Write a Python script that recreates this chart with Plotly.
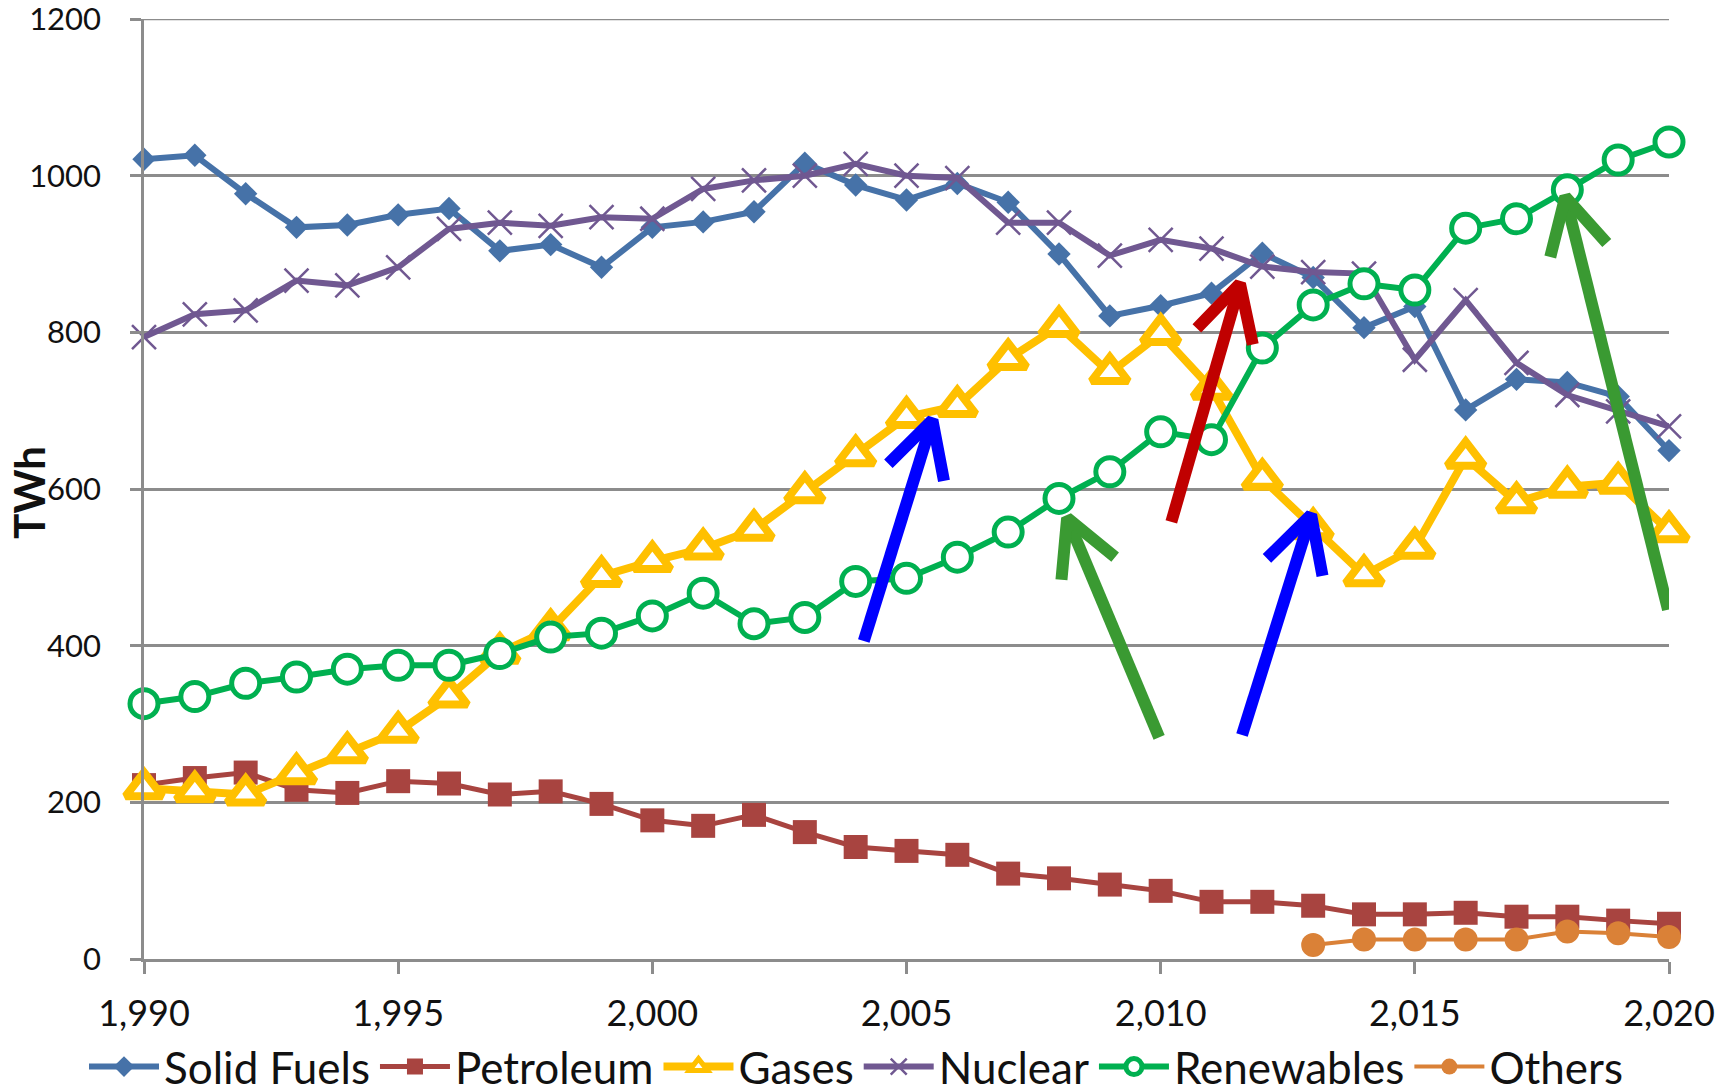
import math
import plotly.graph_objects as go

# ---------------- data ----------------
years = list(range(1990, 2021))
solid_fuels = [1021, 1026, 977, 934, 937, 950, 958, 904, 912, 883, 934, 941, 954, 1016, 988, 969,
               990, 966, 900, 821, 834, 850, 901, 870, 806, 833, 701, 740, 736, 718, 649]
petroleum = [222, 231, 238, 216, 212, 227, 224, 210, 214, 198, 177, 170, 184, 162, 143, 138,
             133, 109, 103, 95, 87, 73, 73, 68, 57, 57, 59, 54, 54, 49, 45]
gases = [218, 214, 210, 237, 264, 290, 335, 391, 421, 489, 508, 524, 548, 596, 643, 692,
         706, 766, 808, 748, 798, 728, 613, 550, 490, 525, 640, 583, 603, 608, 546]
nuclear = [794, 823, 828, 866, 860, 883, 932, 940, 936, 947, 945, 983, 994, 1000, 1015, 1000,
           997, 940, 940, 898, 918, 907, 884, 877, 875, 765, 841, 761, 720, 699, 680]
renewables = [326, 335, 352, 360, 370, 375, 375, 390, 411, 416, 438, 467, 428, 436, 482, 486,
              513, 545, 588, 622, 673, 663, 780, 835, 862, 854, 933, 945, 982, 1020, 1043]
others_years = list(range(2013, 2021))
others = [18, 25, 25, 25, 25, 35, 33, 28]

x_ticks = [1990, 1995, 2000, 2005, 2010, 2015, 2020]
y_ticks = [0, 200, 400, 600, 800, 1000, 1200]

# hand-drawn arrows: tail / head points and colours
arrow_tail_x = [2004.16, 2009.97, 2010.21, 2011.60, 2019.98]
arrow_tail_y = [406, 283, 558, 286, 446]
arrow_head_x = [2005.51, 2008.16, 2011.56, 2012.96, 2017.96]
arrow_head_y = [688, 563, 862, 567, 973]
arrow_colors = ["#0000FF", "#3A9A32", "#C00000", "#0000FF", "#3A9A32"]

# ---------------- layout geometry ----------------
W, H = 1733, 1092
ML, MR, MT, MB = 144, 64, 19, 133
plot_w = W - ML - MR
plot_h = H - MT - MB
X0, X1 = 1990, 2020
Y0, Y1 = 0, 1200
px_x = plot_w / (X1 - X0)
px_y = plot_h / (Y1 - Y0)

FONT = "Lato, 'Open Sans', sans-serif"
GRID = "#8C8C8C"
TXT = "#111111"

fig = go.Figure()

fig.add_trace(go.Scatter(
    x=years, y=solid_fuels, name="Solid Fuels", mode="lines+markers",
    line=dict(color="#4672A8", width=6),
    marker=dict(symbol="diamond", size=18, color="#4672A8"),
    cliponaxis=False))
fig.add_trace(go.Scatter(
    x=years, y=petroleum, name="Petroleum", mode="lines+markers",
    line=dict(color="#A84440", width=5),
    marker=dict(symbol="square", size=24, color="#A84440"),
    cliponaxis=False))
fig.add_trace(go.Scatter(
    x=years, y=gases, name="Gases", mode="lines+markers",
    line=dict(color="#FFC000", width=8),
    marker=dict(symbol="triangle-up", size=32, color="white",
                line=dict(color="#FFC000", width=8)),
    cliponaxis=False))
fig.add_trace(go.Scatter(
    x=years, y=nuclear, name="Nuclear", mode="lines+markers",
    line=dict(color="#705891", width=6),
    marker=dict(symbol="x-thin", size=24, color="#705891",
                line=dict(color="#705891", width=2.5)),
    cliponaxis=False))
fig.add_trace(go.Scatter(
    x=years, y=renewables, name="Renewables", mode="lines+markers",
    line=dict(color="#00B050", width=6),
    marker=dict(symbol="circle", size=28, color="white",
                line=dict(color="#00B050", width=5)),
    cliponaxis=False))
fig.add_trace(go.Scatter(
    x=others_years, y=others, name="Others", mode="lines+markers",
    line=dict(color="#DA8137", width=4),
    marker=dict(symbol="circle", size=24, color="#DA8137"),
    cliponaxis=False))

# arrows drawn as thick strokes with an open chevron head
BARB_LEN = 62
BARB_ANG = math.radians(28)
for tx, ty, hx, hy, col in zip(arrow_tail_x, arrow_tail_y, arrow_head_x, arrow_head_y, arrow_colors):
    dxp = (tx - hx) * px_x
    dyp = -(ty - hy) * px_y
    a = math.atan2(dyp, dxp)
    bx, by = [], []
    for s in (-1, 1):
        ang = a + s * BARB_ANG
        bx.append(hx + BARB_LEN * math.cos(ang) / px_x)
        by.append(hy - BARB_LEN * math.sin(ang) / px_y)
    fig.add_trace(go.Scatter(
        x=[tx, hx, None, bx[0], hx, bx[1]],
        y=[ty, hy, None, by[0], hy, by[1]],
        mode="lines", line=dict(color=col, width=12),
        showlegend=False, hoverinfo="skip", cliponaxis=False))

fig.update_layout(
    width=W, height=H,
    margin=dict(l=ML, r=MR, t=MT, b=MB, pad=0, autoexpand=False),
    paper_bgcolor="white", plot_bgcolor="white",
    font=dict(family=FONT, color=TXT),
    showlegend=True,
    legend=dict(
        orientation="h", x=(84 - ML) / plot_w, xanchor="left",
        y=(959 - 1067) / plot_h, yanchor="middle",
        font=dict(family=FONT, size=44, color=TXT),
        itemwidth=70, tracegroupgap=0, bgcolor="rgba(0,0,0,0)",
        traceorder="normal"),
    xaxis=dict(
        range=[X0, X1], tickmode="array", tickvals=x_ticks, tickformat=",d",
        showgrid=False, zeroline=False,
        showline=True, linecolor=GRID, linewidth=2.5,
        ticks="outside", ticklen=12, tickwidth=2.5, tickcolor=GRID,
        tickfont=dict(family=FONT, size=36, color=TXT),
        ticklabelstandoff=9, ticklabeloverflow="allow"),
    yaxis=dict(
        range=[Y0, Y1], tickmode="array", tickvals=y_ticks, tickformat="d",
        showgrid=True, gridcolor=GRID, gridwidth=2.5, zeroline=False,
        showline=True, linecolor=GRID, linewidth=2.5,
        ticks="outside", ticklen=11, tickwidth=2.5, tickcolor=GRID,
        tickfont=dict(family=FONT, size=31, color=TXT),
        ticklabelstandoff=23, ticklabeloverflow="allow"),
    shapes=[dict(
        type="line", xref="paper", x0=0, x1=1, yref="y", y0=Y1, y1=Y1,
        line=dict(color=GRID, width=2.5), layer="below")],
    annotations=[dict(
        text="<b>TWh</b>", xref="paper", yref="paper",
        x=(29 - ML) / plot_w, y=0.497, xanchor="center", yanchor="middle",
        textangle=-90, showarrow=False,
        font=dict(family=FONT, size=42, color=TXT))],
)

fig.write_html("out.html")
